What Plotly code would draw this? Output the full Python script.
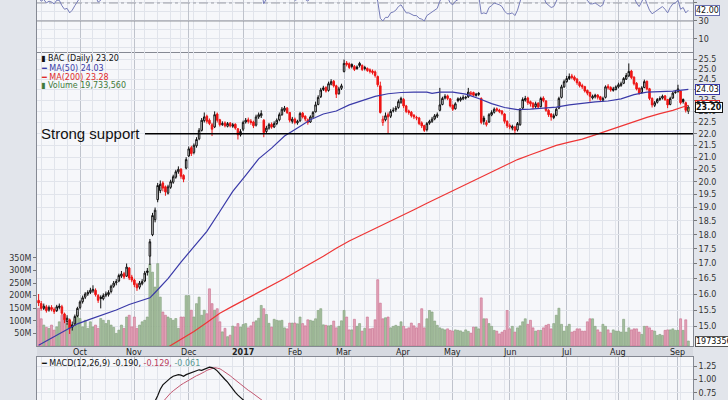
import math
import pandas as pd
import plotly.graph_objects as go

# ---------------- DATA ----------------
holidays = ["2016-11-24", "2016-12-26", "2017-01-02", "2017-01-16", "2017-02-20",
            "2017-04-14", "2017-05-29", "2017-07-04", "2017-09-04"]
month_label = {10: "Oct", 11: "Nov", 12: "Dec", 1: "2017", 2: "Feb", 3: "Mar", 4: "Apr",
               5: "May", 6: "Jun", 7: "Jul", 8: "Aug", 9: "Sep"}

opens = [
    15.80, 15.70, 15.55, 15.60, 15.50, 15.58, 15.52, 15.48, 15.58, 15.60,
    15.38, 15.15, 15.20, 14.98, 15.08, 15.32, 15.58, 15.76, 15.90, 16.00,
    16.05, 16.10, 16.12, 15.95, 15.90, 15.85, 15.96, 15.98, 16.08, 16.25,
    16.36, 16.42, 16.58, 16.66, 16.58, 16.85, 16.55, 16.45, 16.30, 16.22,
    16.33, 16.42, 16.70, 17.25, 18.00, 18.55, 19.30, 19.65, 19.95, 19.80,
    19.55, 19.78, 19.98, 20.18, 20.40, 20.50, 20.25, 20.55, 21.05, 21.40,
    21.20, 21.48, 21.78, 22.15, 22.58, 22.78, 22.60, 22.40, 22.30, 22.88,
    22.62, 22.40, 22.48, 22.33, 22.47, 22.33, 22.42, 22.22, 21.95, 22.20,
    22.52, 22.62, 22.56, 22.52, 22.38, 22.75, 22.80, 22.60, 22.10, 22.25,
    22.42, 22.30, 22.45, 22.62, 22.85, 23.05, 23.15, 22.95, 22.55, 22.65,
    22.48, 22.58, 22.92, 22.78, 22.62, 22.52, 22.75, 22.98, 23.32, 23.68,
    24.02, 24.12, 23.98, 24.28, 24.42, 24.20, 23.82, 24.08, 24.90, 25.32,
    25.28, 25.25, 25.15, 25.12, 25.30, 25.20, 25.10, 25.05, 24.98, 24.92,
    24.88, 24.65, 24.20, 22.50, 22.62, 22.85, 22.78, 23.02, 23.08, 23.18,
    23.42, 23.55, 23.25, 23.02, 22.96, 22.82, 22.72, 22.70, 22.48, 22.36,
    22.18, 22.47, 22.55, 22.66, 22.78, 23.05, 23.32, 23.62, 23.72, 23.58,
    23.28, 23.12, 23.58, 23.52, 23.58, 23.62, 23.68, 23.80, 23.88, 23.74,
    23.84, 23.60, 22.70, 22.40, 22.52, 22.84, 22.96, 23.12, 23.06, 23.02,
    22.88, 22.55, 22.36, 22.25, 22.30, 22.17, 22.40, 23.15, 23.52, 23.62,
    23.45, 23.38, 23.22, 23.38, 23.22, 23.62, 23.48, 23.05, 22.88, 22.72,
    22.82, 23.15, 23.65, 24.15, 24.40, 24.55, 24.68, 24.62, 24.52, 24.36,
    24.22, 24.16, 23.98, 23.88, 23.62, 23.68, 23.76, 23.68, 23.52, 23.65,
    24.18, 24.12, 23.98, 24.02, 24.15, 24.22, 24.32, 24.52, 24.68, 24.92,
    24.62, 24.32, 24.08, 23.88, 24.12, 24.42, 24.06, 23.60, 23.28, 23.42,
    23.55, 23.62, 23.72, 23.55, 23.32, 23.62, 23.88, 23.92, 23.95, 23.55,
    23.40, 23.00]

highs = [
    16.00, 15.78, 15.70, 15.66, 15.64, 15.65, 15.58, 15.66, 15.70, 15.66,
    15.42, 15.34, 15.24, 15.15, 15.36, 15.60, 15.80, 15.95, 16.06, 16.12,
    16.20, 16.28, 16.18, 16.00, 15.96, 16.02, 16.08, 16.12, 16.30, 16.42,
    16.48, 16.66, 16.75, 16.72, 17.00, 16.88, 16.62, 16.50, 16.36, 16.42,
    16.48, 16.75, 16.85, 17.85, 18.80, 19.00, 19.95, 20.05, 20.02, 19.85,
    19.88, 20.08, 20.28, 20.48, 20.62, 20.55, 20.30, 21.00, 21.45, 21.48,
    21.58, 21.85, 22.25, 22.70, 22.95, 22.85, 22.68, 22.48, 23.00, 22.95,
    22.66, 22.55, 22.55, 22.52, 22.52, 22.48, 22.46, 22.25, 22.20, 22.58,
    22.70, 22.72, 22.65, 22.58, 22.85, 22.95, 23.05, 22.65, 22.35, 22.48,
    22.50, 22.55, 22.68, 22.95, 23.20, 23.25, 23.20, 22.98, 22.75, 22.72,
    22.62, 22.98, 22.98, 22.82, 22.68, 22.82, 23.02, 23.45, 23.75, 24.10,
    24.20, 24.18, 24.40, 24.52, 24.48, 24.25, 24.15, 24.30, 25.50, 25.42,
    25.35, 25.30, 25.22, 25.20, 25.38, 25.25, 25.18, 25.10, 25.05, 25.00,
    24.95, 24.70, 24.40, 22.80, 22.95, 22.95, 23.10, 23.18, 23.25, 23.55,
    23.68, 23.62, 23.30, 23.08, 23.02, 22.88, 22.80, 22.75, 22.55, 22.40,
    22.52, 22.62, 22.75, 22.88, 22.95, 24.10, 23.68, 23.80, 23.78, 23.62,
    23.32, 23.42, 23.65, 23.68, 23.75, 23.72, 24.10, 23.95, 23.92, 23.86,
    23.90, 23.65, 22.80, 22.60, 22.92, 23.05, 23.18, 23.18, 23.12, 23.06,
    22.92, 22.60, 22.45, 22.40, 22.35, 22.52, 23.15, 23.65, 23.72, 23.68,
    23.50, 23.42, 23.45, 23.42, 23.68, 23.70, 23.52, 23.10, 22.92, 22.90,
    23.18, 23.68, 24.25, 24.50, 24.68, 24.80, 24.78, 24.70, 24.58, 24.42,
    24.30, 24.20, 24.02, 23.92, 23.78, 23.82, 23.80, 23.72, 23.68, 24.22,
    24.28, 24.18, 24.15, 24.22, 24.35, 24.40, 24.62, 24.82, 25.30, 24.98,
    24.66, 24.38, 24.12, 24.18, 24.50, 24.45, 24.10, 23.65, 23.48, 23.62,
    23.70, 23.78, 23.76, 23.58, 23.68, 23.92, 24.00, 24.25, 23.98, 23.60,
    23.45, 23.28]

lows = [
    15.62, 15.48, 15.50, 15.42, 15.45, 15.46, 15.38, 15.44, 15.52, 15.35,
    15.10, 15.05, 14.78, 14.88, 15.02, 15.28, 15.52, 15.70, 15.84, 15.94,
    16.00, 16.04, 15.92, 15.72, 15.55, 15.80, 15.90, 15.92, 16.02, 16.20,
    16.28, 16.38, 16.52, 16.48, 16.55, 16.45, 16.38, 16.22, 16.10, 16.15,
    16.28, 16.38, 16.60, 16.95, 17.95, 18.45, 19.20, 19.55, 19.62, 19.45,
    19.50, 19.72, 19.92, 20.12, 20.32, 20.12, 19.98, 20.50, 21.00, 21.05,
    21.12, 21.40, 21.72, 22.10, 22.50, 22.45, 22.38, 21.90, 22.25, 22.50,
    22.32, 22.35, 22.28, 22.28, 22.28, 22.26, 22.18, 21.75, 21.88, 22.12,
    22.45, 22.45, 22.40, 22.25, 22.32, 22.66, 22.70, 21.85, 22.00, 22.18,
    22.22, 22.25, 22.38, 22.55, 22.80, 22.98, 22.88, 22.50, 22.45, 22.42,
    22.40, 22.52, 22.68, 22.55, 22.40, 22.48, 22.70, 22.95, 23.28, 23.62,
    23.95, 23.88, 23.92, 24.22, 24.12, 23.62, 23.78, 24.00, 24.85, 25.15,
    25.02, 25.05, 24.92, 24.98, 25.10, 24.92, 24.95, 24.88, 24.80, 24.75,
    24.60, 24.15, 22.90, 22.35, 22.55, 22.00, 22.70, 22.95, 22.98, 23.12,
    23.35, 23.15, 22.92, 22.85, 22.72, 22.65, 22.60, 22.38, 22.25, 22.08,
    22.10, 22.40, 22.48, 22.60, 22.70, 23.00, 23.28, 23.55, 23.52, 23.18,
    23.02, 23.08, 23.42, 23.45, 23.52, 23.55, 23.62, 23.72, 23.70, 23.68,
    23.72, 22.42, 22.40, 22.32, 22.48, 22.78, 22.90, 22.98, 22.92, 22.82,
    22.45, 22.25, 22.20, 22.15, 21.98, 22.10, 22.35, 23.10, 23.45, 23.30,
    23.22, 23.10, 23.15, 23.12, 23.18, 23.42, 22.98, 22.75, 22.58, 22.65,
    22.78, 23.10, 23.60, 24.10, 24.35, 24.48, 24.52, 24.42, 24.25, 24.12,
    24.05, 23.88, 23.75, 23.45, 23.55, 23.60, 23.55, 23.45, 23.45, 23.60,
    24.02, 23.92, 23.92, 23.98, 24.08, 24.15, 24.28, 24.48, 24.62, 24.52,
    24.22, 23.98, 23.78, 23.82, 24.08, 23.98, 23.52, 23.18, 23.20, 23.36,
    23.48, 23.55, 23.48, 23.15, 23.28, 23.58, 23.82, 23.88, 23.32, 23.36,
    22.95, 22.88]

closes = [
    15.72, 15.55, 15.62, 15.48, 15.58, 15.52, 15.45, 15.60, 15.62, 15.40,
    15.20, 15.25, 14.95, 15.05, 15.30, 15.55, 15.75, 15.88, 16.00, 16.05,
    16.12, 16.15, 15.98, 15.80, 15.86, 15.95, 16.00, 16.05, 16.25, 16.35,
    16.40, 16.60, 16.65, 16.55, 16.88, 16.52, 16.45, 16.30, 16.20, 16.35,
    16.40, 16.68, 16.75, 17.75, 18.70, 18.90, 19.85, 19.90, 19.75, 19.60,
    19.80, 20.00, 20.20, 20.40, 20.50, 20.22, 20.10, 20.90, 21.35, 21.15,
    21.50, 21.75, 22.15, 22.60, 22.75, 22.55, 22.45, 22.20, 22.85, 22.60,
    22.40, 22.45, 22.35, 22.45, 22.35, 22.40, 22.25, 21.95, 22.10, 22.50,
    22.60, 22.55, 22.50, 22.35, 22.75, 22.85, 22.90, 22.05, 22.25, 22.40,
    22.30, 22.45, 22.60, 22.85, 23.10, 23.15, 22.95, 22.60, 22.65, 22.50,
    22.55, 22.90, 22.75, 22.65, 22.50, 22.75, 22.95, 23.30, 23.65, 24.00,
    24.10, 23.95, 24.30, 24.40, 24.20, 23.80, 24.05, 24.20, 25.30, 25.25,
    25.10, 25.15, 25.00, 25.05, 25.20, 25.00, 25.05, 24.95, 24.90, 24.85,
    24.70, 24.25, 22.95, 22.65, 22.80, 22.75, 23.00, 23.05, 23.15, 23.45,
    23.60, 23.25, 23.00, 22.95, 22.80, 22.75, 22.70, 22.45, 22.35, 22.15,
    22.45, 22.55, 22.65, 22.80, 22.85, 23.30, 23.60, 23.70, 23.60, 23.25,
    23.10, 23.35, 23.50, 23.60, 23.65, 23.65, 23.90, 23.85, 23.75, 23.80,
    23.80, 22.50, 22.55, 22.50, 22.85, 22.95, 23.10, 23.05, 23.00, 22.90,
    22.55, 22.35, 22.30, 22.32, 22.15, 22.45, 23.10, 23.55, 23.60, 23.40,
    23.35, 23.20, 23.35, 23.20, 23.60, 23.50, 23.05, 22.85, 22.75, 22.80,
    23.10, 23.60, 24.15, 24.40, 24.55, 24.65, 24.60, 24.50, 24.35, 24.20,
    24.15, 23.95, 23.85, 23.70, 23.70, 23.75, 23.65, 23.55, 23.60, 24.15,
    24.10, 24.00, 24.05, 24.15, 24.25, 24.30, 24.55, 24.70, 24.90, 24.60,
    24.30, 24.05, 23.85, 24.10, 24.40, 24.05, 23.60, 23.30, 23.40, 23.55,
    23.60, 23.70, 23.55, 23.30, 23.60, 23.85, 23.90, 24.05, 23.40, 23.45,
    23.05, 23.20]

volume_m = [
    150, 108, 83, 74, 70, 83, 63, 76, 96, 122,
    102, 89, 96, 83, 109, 135, 109, 76, 102, 70,
    96, 76, 83, 70, 109, 102, 89, 102, 83, 74,
    50, 63, 83, 70, 115, 122, 76, 115, 70, 83,
    96, 102, 115, 325, 293, 234, 327, 194, 135, 122,
    115, 109, 102, 109, 70, 115, 115, 200, 200, 142,
    115, 168, 194, 122, 142, 128, 227, 168, 142, 148,
    96, 56, 70, 37, 43, 79, 76, 89, 75, 85,
    89, 72, 80, 95, 100, 110, 161, 148, 125, 90,
    75, 106, 102, 100, 102, 72, 68, 91, 91, 91,
    88, 115, 89, 80, 104, 102, 99, 108, 141, 148,
    84, 82, 80, 82, 99, 72, 78, 100, 141, 115,
    64, 64, 106, 78, 89, 59, 70, 115, 68, 70,
    104, 263, 170, 108, 112, 115, 72, 78, 82, 78,
    96, 78, 68, 72, 91, 80, 72, 89, 148, 72,
    108, 141, 135, 99, 82, 72, 68, 64, 68, 62,
    59, 64, 62, 60, 55, 64, 58, 51, 75, 75,
    68, 191, 108, 108, 89, 78, 62, 59, 48, 55,
    62, 141, 68, 78, 55, 72, 80, 96, 108, 86,
    102, 72, 59, 62, 62, 72, 82, 86, 68, 89,
    122, 150, 86, 59, 78, 86, 55, 59, 68, 68,
    59, 59, 96, 108, 108, 78, 64, 55, 86, 78,
    64, 51, 64, 59, 59, 55, 106, 55, 72, 64,
    68, 68, 55, 46, 78, 78, 72, 62, 59, 42,
    46, 42, 62, 64, 64, 68, 62, 62, 108, 62,
    104, 19.73]

rsi = [
    56, 52, 54, 50, 52, 51, 49, 53, 53, 47,
    43, 44, 39, 42, 47, 52, 56, 58, 60, 61,
    62, 63, 57, 51, 53, 56, 57, 58, 62, 64,
    65, 68, 69, 65, 70, 61, 59, 56, 54, 57,
    58, 63, 64, 75, 82, 84, 88, 88, 85, 82,
    83, 84, 85, 86, 86, 79, 76, 82, 84, 79,
    81, 83, 85, 87, 87, 80, 77, 70, 76, 70,
    66, 66, 64, 65, 63, 64, 61, 56, 58, 62,
    63, 62, 61, 59, 63, 64, 64, 49, 55, 57,
    55, 57, 59, 62, 65, 65, 61, 55, 56, 53,
    54, 59, 56, 54, 52, 56, 59, 64, 69, 73,
    74, 70, 74, 75, 70, 62, 66, 68, 79, 78,
    75, 75, 72, 72, 74, 69, 69, 67, 66, 65,
    61, 52, 33, 30, 34, 34, 39, 40, 42, 46,
    48, 43, 39, 39, 37, 36, 36, 33, 32, 30,
    36, 38, 40, 43, 44, 52, 57, 58, 56, 50,
    48, 52, 54, 56, 57, 57, 61, 60, 58, 59,
    59, 38, 39, 38, 45, 47, 50, 49, 48, 46,
    41, 38, 38, 39, 36, 42, 55, 61, 62, 58,
    57, 54, 57, 54, 60, 58, 50, 47, 45, 46,
    52, 60, 67, 70, 71, 72, 70, 68, 64, 61,
    60, 55, 53, 49, 49, 50, 48, 46, 48, 58,
    57, 55, 56, 58, 60, 61, 65, 67, 70, 62,
    55, 50, 46, 51, 57, 49, 42, 38, 40, 43,
    44, 46, 43, 39, 45, 49, 50, 53, 43, 45,
    39, 42]

ma50_idx = [0, 5, 10, 15, 20, 25, 30, 35, 40, 43, 45, 50, 55, 60, 65, 70, 75, 80, 85, 90,
            95, 100, 105, 110, 115, 120, 125, 130, 135, 140, 145, 150, 152, 155, 160, 165,
            170, 175, 180, 185, 190, 195, 200, 205, 210, 215, 220, 225, 230, 235, 240, 245, 251]
ma50_val = [14.45, 14.65, 14.85, 15.08, 15.22, 15.35, 15.50, 15.67, 15.80, 15.88, 16.05,
            16.50, 17.05, 17.58, 18.12, 18.85, 19.62, 20.25, 20.93, 21.38, 21.90, 22.25,
            22.62, 22.88, 23.02, 23.30, 23.50, 23.70, 23.82, 23.88, 23.90, 23.90, 23.84,
            23.90, 23.90, 23.80, 23.60, 23.36, 23.18, 23.08, 23.10, 23.14, 23.20, 23.30,
            23.38, 23.44, 23.48, 23.58, 23.78, 23.90, 23.92, 23.95, 24.03]

ma200_idx = list(range(50, 251, 5)) + [251]
ma200_val = [14.40, 14.62, 14.85, 15.12, 15.40, 15.62, 15.83, 16.04, 16.27, 16.50,
             16.75, 16.99, 17.25, 17.52, 17.78, 18.00, 18.22, 18.45, 18.68, 18.92,
             19.16, 19.40, 19.65, 19.90, 20.15, 20.40, 20.65, 20.90, 21.10, 21.30,
             21.50, 21.64, 21.77, 21.95, 22.15, 22.35, 22.55, 22.73, 22.90, 23.05,
             23.25, 23.28]

macd_start = 40
macd_line = [0.30, 0.33, 0.38, 0.46, 0.53, 0.60, 0.70, 0.82, 0.90, 0.95,
             1.00, 1.03, 1.06, 1.08, 1.09, 1.08, 1.06, 1.09, 1.11, 1.12,
             1.14, 1.16, 1.18, 1.17, 1.19, 1.21, 1.23, 1.22, 1.20, 1.16,
             1.10, 1.05, 1.00, 0.95, 0.88, 0.82, 0.76, 0.71, 0.66, 0.62,
             0.58, 0.55, 0.52, 0.50, 0.47, 0.45, 0.43, 0.41, 0.40, 0.38, 0.36]
macd_signal = [0.28, 0.29, 0.31, 0.33, 0.37, 0.41, 0.46, 0.52, 0.58, 0.64,
               0.70, 0.75, 0.79, 0.83, 0.87, 0.90, 0.93, 0.96, 0.98, 1.01,
               1.04, 1.07, 1.09, 1.11, 1.14, 1.17, 1.19, 1.21, 1.22, 1.21,
               1.20, 1.17, 1.14, 1.11, 1.07, 1.03, 0.99, 0.95, 0.92, 0.88,
               0.84, 0.80, 0.77, 0.73, 0.69, 0.65, 0.62, 0.58, 0.55, 0.52, 0.50]

price_ticks = [15.0 + 0.5 * k for k in range(22)]
vol_ticks = [50, 100, 150, 200, 250, 300, 350]
support_level = 22.0

# ---------------- BUILD ----------------
days = pd.bdate_range("2016-09-09", "2017-09-08")
days = days[~days.isin(pd.to_datetime(holidays))]
n = len(days)
for nm, arr in [("opens", opens), ("highs", highs), ("lows", lows), ("closes", closes),
                ("volume", volume_m), ("rsi", rsi)]:
    if len(arr) != n:
        raise SystemExit(f"{nm} has {len(arr)} values, expected {n}")
idx = list(range(n))
month_starts = [i for i in range(1, n) if days[i].month != days[i - 1].month]
week_starts = [i for i in range(1, n) if days[i].weekday() < days[i - 1].weekday()]

up = [False] + [closes[i] >= closes[i - 1] for i in range(1, n)]

XR = [-0.62, 252.8]
BG = "#f6f7fa"
RED = "#ee1515"
FONT = "DejaVu Sans"

fig = go.Figure()

# volume (base axis y2)
fig.add_trace(go.Bar(
    x=idx, y=volume_m, xaxis="x", yaxis="y2", width=0.78,
    marker=dict(color=["#a7c0a0" if u else "#e2a4b8" for u in up],
                line=dict(color=["#7f9d79" if u else "#c96d8d" for u in up], width=0.6)),
    hoverinfo="skip"))


def candles(ids, color, fill_up, fill_dn):
    return go.Candlestick(
        x=ids, open=[opens[i] for i in ids], high=[highs[i] for i in ids],
        low=[lows[i] for i in ids], close=[closes[i] for i in ids],
        xaxis="x", yaxis="y3", whiskerwidth=0, hoverinfo="skip",
        increasing=dict(line=dict(color=color, width=1), fillcolor=fill_up),
        decreasing=dict(line=dict(color=color, width=1), fillcolor=fill_dn))


blk = [i for i in idx[:-1] if up[i]]
red = [i for i in idx[:-1] if not up[i]]
fig.add_trace(candles(blk, "#111111", BG, "#111111"))
fig.add_trace(candles(red, RED, BG, RED))
fig.add_trace(candles([n - 1], "#333333", "#f2e94e", "#f2e94e"))

fig.add_trace(go.Scatter(x=ma50_idx, y=ma50_val, mode="lines", xaxis="x", yaxis="y3",
                         line=dict(color="#3a3aa8", width=1.2), hoverinfo="skip"))
fig.add_trace(go.Scatter(x=ma200_idx, y=ma200_val, mode="lines", xaxis="x", yaxis="y3",
                         line=dict(color="#ee3535", width=1.2), hoverinfo="skip"))
fig.add_trace(go.Scatter(x=[41.1, XR[1]], y=[support_level, support_level], mode="lines",
                         xaxis="x", yaxis="y3", line=dict(color="#000000", width=1.6),
                         hoverinfo="skip"))

# RSI
fig.add_trace(go.Scatter(x=XR, y=[30, 30], mode="lines", xaxis="x2", yaxis="y",
                         line=dict(color="#8e9098", width=1), hoverinfo="skip"))
fig.add_trace(go.Scatter(x=XR, y=[50, 50], mode="lines", xaxis="x2", yaxis="y",
                         line=dict(color="#9a9ca4", width=1, dash="dashdot"), hoverinfo="skip"))
fig.add_trace(go.Scatter(x=idx, y=rsi, mode="lines", xaxis="x2", yaxis="y",
                         line=dict(color="#767cb8", width=1), hoverinfo="skip"))

# MACD
mx = list(range(macd_start, macd_start + len(macd_line)))
fig.add_trace(go.Scatter(x=mx, y=macd_signal, mode="lines", xaxis="x3", yaxis="y4",
                         line=dict(color="#c2566f", width=1), hoverinfo="skip"))
fig.add_trace(go.Scatter(x=mx, y=macd_line, mode="lines", xaxis="x3", yaxis="y4",
                         line=dict(color="#111111", width=1.2), hoverinfo="skip"))

tickfont = dict(family=FONT, size=8, color="#333333")
xcommon = dict(range=XR, showticklabels=False, tickmode="array", tickvals=month_starts, ticks="",
               showgrid=True, gridcolor="#bfc3cc", gridwidth=1,
               minor=dict(tickvals=week_starts, showgrid=True, gridcolor="#e1e4eb", gridwidth=1),
               zeroline=False, linecolor="#858993", linewidth=1, fixedrange=True)
ycommon = dict(zeroline=False, ticks="outside", ticklen=3, tickcolor="#777777",
               tickfont=tickfont, showline=True, mirror=True, linecolor="#858993",
               linewidth=1, gridcolor="#e1e4eb", fixedrange=True)

P_TOP = 1 - 53 / 400
P_BOT = 1 - 346 / 400
M_TOP = 1 - 357 / 400

fig.update_layout(
    width=728, height=400, margin=dict(l=37, r=35, t=0, b=0),
    paper_bgcolor="#e2e5eb", plot_bgcolor=BG, showlegend=False, boxgap=0.15,
    xaxis=dict(**xcommon, anchor="y2", domain=[0, 1], showline=True, mirror=True,
               rangeslider=dict(visible=False)),
    xaxis2=dict(**xcommon, anchor="y", domain=[0, 1], showline=False),
    xaxis3=dict(**xcommon, anchor="y4", domain=[0, 1], showline=True, mirror=True),
    yaxis=dict(**ycommon, domain=[P_TOP, 1], range=[-5.6, 53.3], anchor="x2", side="right",
               tickvals=[10, 30, 50], showgrid=True,
               minor=dict(tickvals=[0, 20, 40], showgrid=True, gridcolor="#e1e4eb")),
    yaxis2=dict(**ycommon, domain=[P_BOT, P_TOP], range=[0, 1163], anchor="x", side="left",
                tickvals=vol_ticks, ticktext=[f"{v}M" for v in vol_ticks], showgrid=False),
    yaxis3=dict(**ycommon, type="log", range=[math.log10(14.43), math.log10(25.83)],
                overlaying="y2", anchor="x", side="right", tickvals=price_ticks,
                ticktext=[f"{v:.1f}" for v in price_ticks], showgrid=True),
    yaxis4=dict(**ycommon, domain=[0, M_TOP], range=[0.62, 1.417], anchor="x3", side="right",
                tickvals=[0.75, 1.0, 1.25], ticktext=["0.75", "1.00", "1.25"], showgrid=True),
)

# date band
fig.add_shape(type="rect", xref="paper", yref="paper", x0=0, x1=1, y0=M_TOP, y1=P_BOT,
              fillcolor="#d7dae1", line=dict(width=0), layer="below")
anns = []
for i in month_starts:
    lab = month_label[days[i].month]
    anns.append(dict(x=i, xref="x", y=1 - 352 / 400, yref="paper", showarrow=False,
                     text=f"<b>{lab}</b>" if lab == "2017" else lab,
                     font=dict(family=FONT, size=8, color="#222222"),
                     xanchor="center", yanchor="middle"))


def px_x(px):
    return (px - 37) / 656


def px_y(py):
    return 1 - py / 400


legend = [
    (59, "<span style='color:#111'>▮ BAC (Daily) 23.20</span>"),
    (68, "<span style='color:#3a3aa8'>━ MA(50) 24.03</span>"),
    (77, "<span style='color:#e02a2a'>━ MA(200) 23.28</span>"),
    (86, "<span style='color:#3f7a3a'>▮ Volume 19,733,560</span>"),
]
for py, t in legend:
    anns.append(dict(x=px_x(39), y=px_y(py), xref="paper", yref="paper", text=t,
                     showarrow=False, xanchor="left", yanchor="middle",
                     font=dict(family=FONT, size=8)))

anns.append(dict(x=px_x(39), y=px_y(363), xref="paper", yref="paper", showarrow=False,
                 xanchor="left", yanchor="middle", font=dict(family=FONT, size=8),
                 text="<span style='color:#111'>━ MACD(12,26,9) -0.190,</span> "
                      "<span style='color:#b8405c'>-0.129,</span> "
                      "<span style='color:#5c9a94'>-0.061</span>"))

anns.append(dict(x=px_x(39), y=px_y(133), xref="paper", yref="paper",
                 text="Strong support", showarrow=False, xanchor="left", yanchor="middle",
                 font=dict(family="Liberation Sans", size=15, color="#111111")))


def tag(yref, yval, text, border, bold=False):
    return dict(x=1, xref="paper", xshift=2, y=yval, yref=yref, showarrow=False,
                xanchor="left", yanchor="middle", text=f"<b>{text}</b>" if bold else text,
                font=dict(family=FONT, size=8, color="#111111"), bgcolor="#ffffff",
                bordercolor=border, borderwidth=1, borderpad=0)


anns.append(tag("y", 42.0, "42.00", "#6a70b0"))
anns.append(tag("y3", math.log10(24.03), "24.03", "#3a3aa8"))
anns.append(tag("y3", math.log10(23.28), "23.28", "#e02a2a"))
anns.append(tag("y3", math.log10(23.20), "23.20", "#111111", bold=True))
anns.append(tag("y2", 19.73, "19733560", "#555555"))

fig.update_layout(annotations=anns)
fig.write_html("out.html")
